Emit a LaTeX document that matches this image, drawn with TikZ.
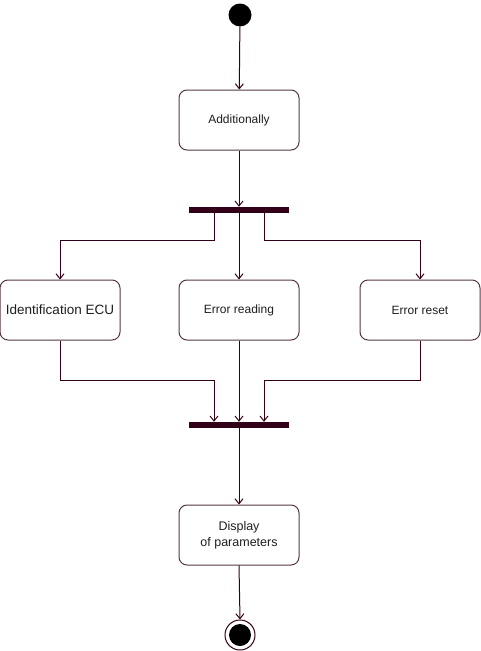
\documentclass[tikz,border=0pt]{standalone}
\usepackage{fontspec}
\setmainfont{Liberation Sans}
\usetikzlibrary{arrows.meta,positioning}
\definecolor{linecol}{RGB}{51,0,25}
\definecolor{boxcol}{RGB}{85,55,68}
\definecolor{textcol}{RGB}{30,30,30}
\begin{document}
\begin{tikzpicture}[x=1pt,y=1pt]
\tikzstyle{every node}+=[inner sep=0pt,text=textcol]
\tikzstyle{state}=[draw=boxcol,line width=1pt,rounded corners=8pt,minimum width=120pt,minimum height=60pt,align=center,font=\fontsize{12}{14}\selectfont]
\tikzstyle{bar}=[fill=linecol,minimum width=100pt,minimum height=6pt]
\tikzstyle{flow}=[draw=linecol,line width=1pt,-{Straight Barb[length=5pt,width=8pt]}]
\useasboundingbox (0,0) rectangle (481,-651);
\node [circle,fill=black,minimum size=23pt] (start) at (240,-15) {};
\node [state] (add) at (239,-120) {Additionally};
\node [bar] (fork) at (239,-210) {};
\node [state,font=\fontsize{13.5}{15}\selectfont] (ident) at (60,-310) {Identification ECU};
\node [state] (read) at (239,-310) {Error reading};
\node [state] (reset) at (420,-310) {Error reset};
\node [bar] (join) at (239,-425) {};
\node [state,font=\fontsize{12.5}{16}\selectfont] (disp) at (239,-535) {Display\\of parameters};
\node [circle,draw=linecol,line width=1pt,minimum size=30pt] (stop) at (240,-635) {};
\node [circle,fill=black,minimum size=22pt] at (stop) {};
\draw [flow] (start) -- (add);
\draw [flow] (add) -- (fork);
\draw [flow] ([xshift=-25pt]fork.south) -- ++(0,-27) -| (ident.north);
\draw [flow] (fork.south) -- (read.north);
\draw [flow] ([xshift=25pt]fork.south) -- ++(0,-27) -| (reset.north);
\draw [flow] (ident.south) -- ++(0,-40) -| ([xshift=-25pt]join.north);
\draw [flow] (read.south) -- (join.north);
\draw [flow] (reset.south) -- ++(0,-40) -| ([xshift=25pt]join.north);
\draw [flow] (join.south) -- (disp.north);
\draw [flow] (disp.south) -- (stop.north);
\end{tikzpicture}
\end{document}
